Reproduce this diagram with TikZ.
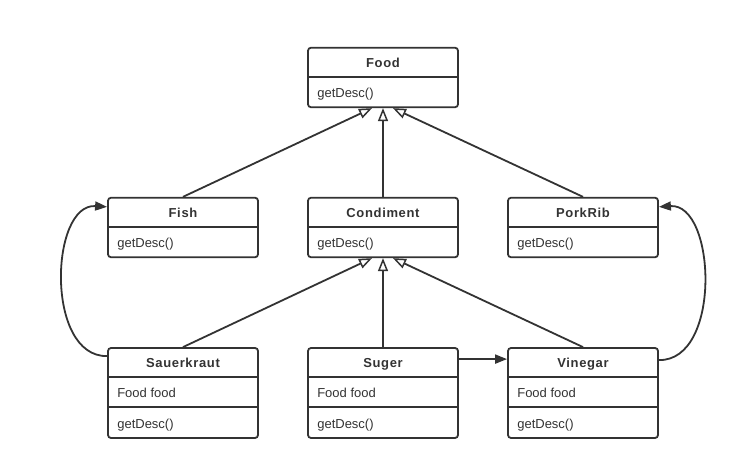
\documentclass[tikz,border=0pt]{standalone}
\usepackage{fontspec}
\setmainfont{Liberation Sans}
\usetikzlibrary{arrows.meta,calc}
\definecolor{ln}{HTML}{333333}
\tikzset{
  cls/.style={draw=ln, line width=1.8pt, rounded corners=3pt, minimum width=150pt, inner sep=0pt, fill=white},
  ttl/.style={font=\fontsize{13}{15}\selectfont\bfseries\addfontfeatures{LetterSpace=5}, text=ln, text height=9.5pt, text depth=2.8pt, inner sep=0pt},
  mem/.style={font=\fontsize{13}{15}\selectfont, text=ln, anchor=west, inner sep=0pt, text height=9.5pt, text depth=2.8pt},
  div/.style={draw=ln, line width=1.8pt},
  inh/.style={draw=ln, line width=1.8pt, -{Triangle[open, length=13pt, width=10pt, line width=1.5pt, fill=white]}},
  assoc/.style={draw=ln, line width=1.8pt, -{Triangle[length=12pt, width=9pt]}},
}
\begin{document}
\begin{tikzpicture}[x=1pt,y=1pt]
\useasboundingbox (0,0) rectangle (752,-470);
% two-compartment classes
\foreach \n/\t/\x/\y in {food/Food/383/-77.5, fish/Fish/183/-227.5, cond/Condiment/383/-227.5, pork/PorkRib/583/-227.5}{
  \node[cls, minimum height=59.5pt] (\n) at (\x,\y) {};
  \draw[div] ($(\n.north west)+(0,-30)$) -- ($(\n.north east)+(0,-30)$);
  \node[ttl] (\n-t) at ($(\n.north)+(0,-17)$) {\t};
  \node[mem] (\n-m) at ($(\n.north west)+(10,-47.5)$) {getDesc()};
}
% three-compartment classes
\foreach \n/\t/\x in {sauer/Sauerkraut/183, suger/Suger/383, vine/Vinegar/583}{
  \node[cls, minimum height=90pt] (\n) at (\x,-393) {};
  \draw[div] ($(\n.north west)+(0,-30)$) -- ($(\n.north east)+(0,-30)$);
  \draw[div] ($(\n.north west)+(0,-60)$) -- ($(\n.north east)+(0,-60)$);
  \node[ttl] (\n-t) at ($(\n.north)+(0,-17)$) {\t};
  \node[mem] (\n-a) at ($(\n.north west)+(10,-47.5)$) {Food food};
  \node[mem] (\n-m) at ($(\n.north west)+(10,-78)$) {getDesc()};
}
% inheritance targets
\coordinate (foodL) at ($(food.south)+(-11,0)$);
\coordinate (foodR) at ($(food.south)+(10,0)$);
\coordinate (condL) at ($(cond.south)+(-11,0)$);
\coordinate (condR) at ($(cond.south)+(10,0)$);
\draw[inh] (fish.north) -- (foodL);
\draw[inh] (cond.north) -- (food.south);
\draw[inh] (pork.north) -- (foodR);
\draw[inh] (sauer.north) -- (condL);
\draw[inh] (suger.north) -- (cond.south);
\draw[inh] (vine.north) -- (condR);
% associations
\coordinate (sgE) at ($(suger.north east)+(0,-12)$);
\coordinate (viW) at ($(vine.north west)+(0,-12)$);
\draw[assoc] (sgE) -- (viW);
\coordinate (saW) at ($(sauer.north west)+(0,-9)$);
\coordinate (fiW) at ($(fish.north west)+(0,-10)$);
\draw[assoc] (saW) .. controls (45,-357) and (50,-203) .. (fiW);
\coordinate (viE) at ($(vine.north east)+(0,-13)$);
\coordinate (poE) at ($(pork.north east)+(0,-10)$);
\draw[assoc] (viE) .. controls (722,-361) and (716,-203) .. (poE);
\end{tikzpicture}
\end{document}
